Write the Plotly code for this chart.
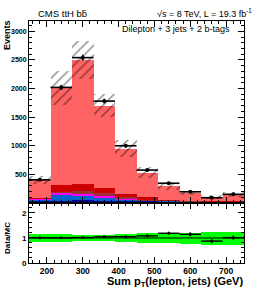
import numpy as np
import plotly.graph_objects as go
from plotly.subplots import make_subplots

# ---- data ----
bin_lo = [150, 210, 270, 330, 390, 450, 510, 570, 630, 690]
bin_width = 60
data_counts = [405, 2020, 2540, 1780, 1000, 575, 345, 195, 92, 152]

# background components (bottom to top of stack)
ttV = [20, 35, 50, 40, 30, 20, 12, 8, 5, 5]
single_t = [35, 105, 75, 46, 23, 15, 8, 5, 3, 4]
tth = [7, 30, 35, 29, 10, 7, 5, 3, 2, 2]
ttcc = [8, 30, 52, 57, 37, 18, 13, 8, 5, 6]
ttb = [15, 115, 120, 86, 55, 40, 22, 14, 9, 10]
ttlf = [315, 1695, 2168, 1442, 795, 430, 230, 132, 81, 123]
mc_rel_unc = [0.17, 0.15, 0.13, 0.12, 0.15, 0.19, 0.21, 0.22, 0.26, 0.26]

xticks = [200, 300, 400, 500, 600, 700]
yticks_top = [500, 1000, 1500, 2000, 2500, 3000]
yticks_ratio = [0, 1, 2]

# ---- derived ----
lo = np.array(bin_lo, dtype=float)
centers = lo + bin_width / 2
data = np.array(data_counts, dtype=float)
comps_bottom_up = [ttV, single_t, tth, ttcc, ttb, ttlf]
colors_bottom_up = ["#000099", "#0066cc", "#ff00ff", "#993333", "#cc0000", "#ff6363"]
cum = np.cumsum(np.array(comps_bottom_up, dtype=float), axis=0)
mc = cum[-1]
rel = np.array(mc_rel_unc)
unc = mc * rel
ratio = data / mc
ratio_err = np.sqrt(data) / mc

FONT = "Liberation Sans, Arial, Helvetica, sans-serif"
W, H, L, R, T, B = 258, 290, 29, 14, 21, 27

fig = make_subplots(rows=2, cols=1, shared_xaxes=False, vertical_spacing=0.0,
                    row_heights=[0.752, 0.248])

for i in range(len(comps_bottom_up) - 1, -1, -1):
    fig.add_trace(go.Bar(x=centers, y=cum[i], width=bin_width,
                         marker=dict(color=colors_bottom_up[i], line=dict(width=0)),
                         showlegend=False, hoverinfo="skip"), row=1, col=1)

fig.add_trace(go.Bar(x=centers, y=2 * unc, base=mc - unc, width=bin_width,
                     marker=dict(color="rgba(0,0,0,0)", line=dict(width=0),
                                 pattern=dict(shape="/", fgcolor="#000000", bgcolor="rgba(0,0,0,0)",
                                              size=7, solidity=0.18, fillmode="overlay")),
                     showlegend=False, hoverinfo="skip"), row=1, col=1)

fig.add_trace(go.Scatter(x=centers, y=data, mode="markers",
                         marker=dict(color="black", size=4),
                         error_x=dict(type="constant", value=bin_width / 2, width=0, thickness=1.6, color="black"),
                         error_y=dict(type="data", array=np.sqrt(data), width=0, thickness=1.6, color="black"),
                         showlegend=False), row=1, col=1)

fig.add_trace(go.Bar(x=centers, y=2 * rel, base=1 - rel, width=bin_width,
                     marker=dict(color="#00ff00", line=dict(width=0)), showlegend=False, hoverinfo="skip"),
              row=2, col=1)
fig.add_trace(go.Scatter(x=[150, 750], y=[1, 1], mode="lines", line=dict(color="black", width=1),
                         showlegend=False, hoverinfo="skip"), row=2, col=1)
fig.add_trace(go.Scatter(x=centers, y=ratio, mode="markers",
                         marker=dict(color="black", size=3),
                         error_x=dict(type="constant", value=bin_width / 2, width=0, thickness=1.4, color="black"),
                         error_y=dict(type="data", array=ratio_err, width=0, thickness=1.4, color="black"),
                         showlegend=False), row=2, col=1)

axis_common = dict(showline=True, linecolor="black", linewidth=1, mirror="ticks",
                   ticks="inside", tickcolor="black", showgrid=False, zeroline=False)

fig.update_xaxes(range=[150, 750], tickvals=xticks, ticklen=6,
                 minor=dict(dtick=20, ticks="inside", ticklen=3, tickcolor="black"),
                 **axis_common)
fig.update_xaxes(showticklabels=False, row=1, col=1)
fig.update_xaxes(showticklabels=True, tickfont=dict(family=FONT, size=8.5, color="black", weight="bold"),
                 row=2, col=1)

fig.update_yaxes(range=[0, 3180], tickvals=yticks_top, ticklen=6,
                 minor=dict(dtick=100, ticks="inside", ticklen=3, tickcolor="black"),
                 tickfont=dict(family=FONT, size=7, color="black", weight="bold"),
                 row=1, col=1, **axis_common)
fig.update_yaxes(range=[0, 2.4], tickvals=yticks_ratio, ticklen=6,
                 minor=dict(dtick=0.2, ticks="inside", ticklen=3, tickcolor="black"),
                 tickfont=dict(family=FONT, size=8, color="black", weight="bold"),
                 row=2, col=1, **axis_common)

fig.update_layout(barmode="overlay", bargap=0, width=W, height=H,
                  margin=dict(l=L, r=R, t=T, b=B),
                  paper_bgcolor="white", plot_bgcolor="white",
                  font=dict(family=FONT, color="black"))


def px_ann(text, x, y, xanchor="left", yanchor="middle", size=9, weight="normal", angle=0):
    fig.add_annotation(text=text, x=(x - L) / (W - L - R), y=(H - B - y) / (H - T - B),
                       xref="paper", yref="paper", xanchor=xanchor, yanchor=yanchor,
                       showarrow=False, textangle=angle,
                       font=dict(family=FONT, size=size, color="black", weight=weight))


px_ann("CMS ttH bb\u0304", 36, 13, size=9.5)
px_ann("\u221As = 8 TeV, L = 19.3 fb<sup>-1</sup>", 254, 13, xanchor="right", size=9)
px_ann("Dilepton + 3 jets + 2 b-tags", 232, 29, xanchor="right", size=9)
px_ann("Sum p<sub>T</sub>(lepton, jets) (GeV)", 245, 282, xanchor="right", size=11, weight="bold")
px_ann("Events", 7, 18, xanchor="center", yanchor="top", size=9, weight="bold", angle=-90)
px_ann("Data/MC", 7, 238, xanchor="center", size=8, weight="bold", angle=-90)

fig.write_html("out.html", config={"displayModeBar": False},
               post_script="document.body.style.margin='0px';")
